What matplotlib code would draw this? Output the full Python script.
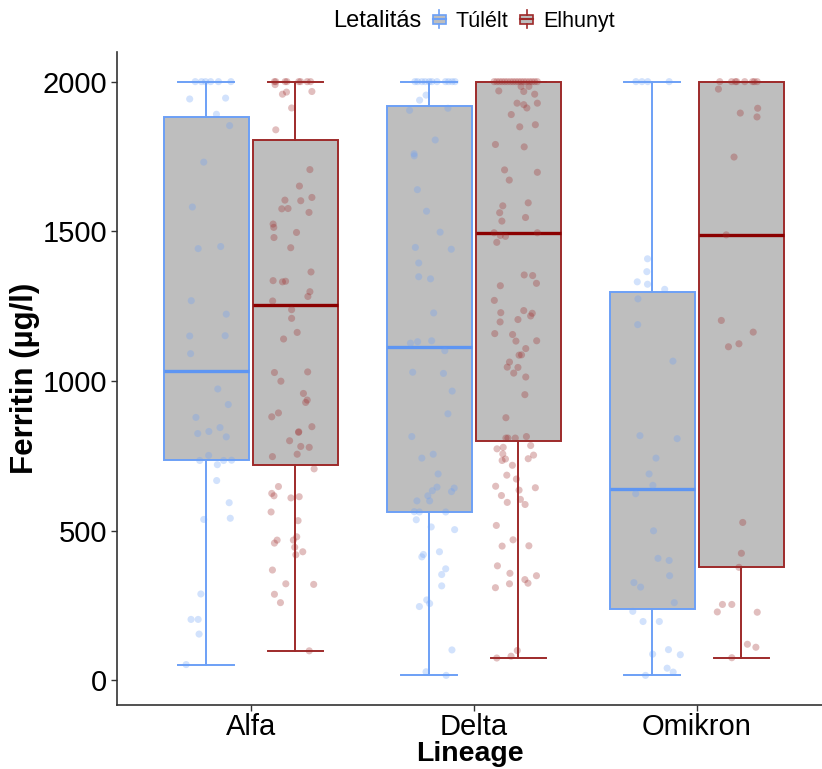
import matplotlib
matplotlib.use("Agg")
import matplotlib.pyplot as plt
from matplotlib.patches import Rectangle, Patch
from matplotlib.lines import Line2D
from matplotlib.legend_handler import HandlerBase

plt.rcParams["font.family"] = ["Liberation Sans", "DejaVu Sans"]

# -----------------------------
# Data
# -----------------------------
lineages = ["Alfa", "Delta", "Omikron"]
groups = ["Túlélt", "Elhunyt"]
colors = {"Túlélt": "#6CA0F6", "Elhunyt": "#9E2A2A"}
median_colors = {"Túlélt": "#5E95F2", "Elhunyt": "#8B0000"}

# box statistics per lineage, order: Túlélt, Elhunyt
whislo = {"Alfa": [52, 98], "Delta": [16, 75], "Omikron": [16, 75]}
q1 = {"Alfa": [734, 718], "Delta": [562, 798], "Omikron": [238, 377]}
med = {"Alfa": [1033, 1252], "Delta": [1114, 1495], "Omikron": [638, 1488]}
q3 = {"Alfa": [1882, 1806], "Delta": [1917, 2000], "Omikron": [1298, 2000]}
whishi = {"Alfa": [2000, 2000], "Delta": [2000, 2000], "Omikron": [2000, 2000]}

# jittered observations: ferritin values and horizontal jitter
alfa_tulelt_y = [2000, 2000, 2000, 2000, 2000, 2000, 1942, 1945, 1891, 1853, 1731,
                 1581, 1442, 1449, 1268, 1223, 1150, 1151, 1091, 973, 921, 878, 824,
                 831, 844, 813, 751, 734, 720, 734, 735, 667, 593, 537, 541, 288,
                 203, 203, 154, 52]
alfa_tulelt_dx = [-0.049, -0.021, -0.003, 0.020, 0.055, 0.111, -0.074, 0.087, 0.046,
                  0.105, -0.011, -0.062, -0.036, 0.065, -0.067, 0.090, -0.074, 0.085,
                  -0.070, 0.052, 0.099, -0.046, -0.038, 0.012, 0.062, 0.090, 0.011,
                  -0.029, 0.050, 0.078, 0.114, 0.047, 0.103, -0.011, 0.108, -0.024,
                  -0.068, -0.036, -0.032, -0.090]

alfa_elhunyt_y = [2000, 2000, 2000, 2000, 2000, 2000, 2000, 2000, 1990, 1958, 1965,
                  1967, 1912, 1839, 1706, 1651, 1604, 1602, 1613, 1575, 1576, 1563,
                  1524, 1513, 1479, 1496, 1445, 1364, 1335, 1331, 1333, 1298, 1282,
                  1267, 1238, 1209, 1162, 1140, 1028, 1030, 999, 958, 936, 928, 880,
                  893, 847, 828, 830, 800, 781, 778, 747, 755, 706, 647, 624, 616,
                  609, 613, 562, 533, 468, 458, 479, 468, 444, 429, 419, 368, 322,
                  320, 287, 259, 98]
alfa_elhunyt_dx = [-0.094, -0.088, -0.046, -0.038, 0.015, 0.023, 0.053, 0.068, -0.091,
                   -0.058, -0.040, 0.074, -0.017, -0.088, 0.065, 0.018, -0.047, 0.024,
                   0.074, -0.061, -0.033, 0.061, -0.100, -0.097, -0.096, 0.005, -0.021,
                   0.070, -0.100, -0.058, -0.044, 0.065, 0.056, -0.102, -0.017, -0.017,
                   0.008, -0.053, -0.094, 0.055, -0.065, 0.036, 0.053, 0.046, -0.106,
                   -0.076, 0.074, 0.014, 0.015, -0.026, 0.024, 0.062, -0.103, 0.008,
                   0.084, -0.076, -0.106, -0.096, -0.020, 0.017, -0.109, 0.012, -0.082,
                   -0.094, 0.006, -0.009, -0.003, 0.033, 0.002, -0.103, -0.043, 0.082,
                   -0.094, -0.067, 0.062]

delta_tulelt_y = [2000, 2000, 2000, 2000, 2000, 2000, 2000, 2000, 2000, 2000, 2000,
                  1955, 1938, 1904, 1911, 1805, 1759, 1752, 1639, 1567, 1497, 1446,
                  1440, 1394, 1348, 1341, 1227, 1126, 1131, 1134, 1101, 1029, 1025,
                  966, 890, 814, 742, 755, 689, 645, 633, 616, 599, 599, 630, 642,
                  563, 562, 562, 536, 512, 503, 420, 412, 429, 372, 353, 315, 268,
                  256, 246, 101, 28, 16]
delta_tulelt_dx = [-0.064, -0.052, -0.033, -0.018, 0.000, 0.012, 0.035, 0.073, 0.087,
                   0.103, 0.116, -0.014, -0.043, -0.088, 0.084, 0.027, -0.068, -0.067,
                   -0.053, -0.012, 0.049, -0.062, 0.099, -0.047, -0.047, 0.006, 0.020,
                   -0.084, -0.052, 0.011, 0.070, -0.074, 0.064, 0.103, 0.084, -0.078,
                   -0.033, 0.018, 0.040, 0.035, 0.014, -0.006, 0.002, -0.055, 0.100,
                   0.112, -0.067, -0.044, 0.074, -0.058, 0.009, 0.114, -0.026, -0.033,
                   0.046, 0.074, 0.056, 0.056, -0.011, 0.002, -0.044, 0.102, -0.014,
                   0.076]

delta_elhunyt_y = [2000, 2000, 2000, 2000, 2000, 2000, 2000, 2000, 2000, 2000, 2000,
                   2000, 2000, 2000, 2000, 2000, 2000, 1984, 1984, 1967, 1969, 1958,
                   1928, 1923, 1912, 1928, 1890, 1849, 1856, 1790, 1782, 1705, 1697,
                   1671, 1585, 1595, 1562, 1546, 1534, 1495, 1486, 1483, 1495, 1463,
                   1354, 1352, 1326, 1318, 1269, 1228, 1235, 1226, 1217, 1205, 1197,
                   1158, 1155, 1133, 1134, 1108, 1086, 1087, 1063, 1046, 1045, 1026,
                   1013, 954, 877, 809, 809, 809, 814, 773, 778, 784, 756, 734, 739,
                   740, 752, 718, 685, 672, 648, 617, 635, 643, 604, 594, 587, 517,
                   469, 448, 449, 382, 357, 336, 324, 349, 309, 322, 99, 80, 74]
delta_elhunyt_dx = [-0.109, -0.097, -0.085, -0.073, -0.061, -0.049, -0.036, -0.024,
                    -0.012, 0.000, 0.012, 0.024, 0.036, 0.049, 0.061, 0.073, 0.085,
                    0.012, 0.047, 0.024, -0.088, 0.073, -0.006, 0.024, 0.038, 0.085,
                    -0.032, 0.006, 0.076, -0.103, 0.026, -0.062, 0.085, -0.041, -0.070,
                    0.044, -0.084, 0.032, -0.074, -0.109, -0.081, -0.058, 0.085, -0.097,
                    0.026, 0.064, 0.081, -0.081, -0.108, -0.079, 0.024, 0.062, 0.055,
                    -0.002, -0.082, -0.106, -0.026, -0.011, 0.082, 0.033, 0.003, 0.014,
                    -0.040, -0.050, -0.002, -0.021, 0.033, 0.029, -0.056, -0.056,
                    -0.047, -0.014, 0.036, -0.096, -0.068, 0.055, -0.070, -0.073,
                    -0.058, 0.044, 0.068, -0.027, -0.052, -0.009, -0.102, -0.076, 0.003,
                    0.076, 0.009, -0.050, 0.030, -0.099, -0.024, -0.073, 0.047, -0.094,
                    -0.038, 0.029, 0.043, 0.081, -0.103, -0.040, -0.005, -0.033, -0.097]

omikron_tulelt_y = [2000, 2000, 2000, 2000, 1408, 1365, 1331, 1323, 1306, 1274, 1188,
                    1066, 817, 807, 742, 689, 651, 623, 499, 407, 400, 349, 326, 311,
                    259, 230, 196, 196, 87, 102, 85, 40, 27, 16]
omikron_tulelt_dx = [-0.073, -0.046, -0.020, 0.076, -0.021, -0.024, -0.067, -0.021,
                     0.056, -0.064, -0.065, 0.093, -0.055, 0.112, 0.017, -0.014, 0.003,
                     -0.074, 0.006, 0.026, 0.076, 0.078, -0.082, -0.052, 0.099, -0.087,
                     -0.041, 0.032, 0.002, 0.073, 0.126, 0.067, 0.094, -0.030]

omikron_elhunyt_y = [2000, 2000, 2000, 2000, 2000, 2000, 2000, 2000, 1975, 1911, 1895,
                     1882, 1748, 1488, 1202, 1163, 1114, 1124, 527, 424, 377, 253, 253,
                     228, 227, 120, 110, 75]
omikron_elhunyt_dx = [-0.097, -0.044, -0.027, -0.021, 0.015, 0.050, 0.058, 0.071,
                      -0.103, 0.073, -0.005, 0.070, -0.033, -0.068, -0.090, 0.053,
                      -0.058, -0.011, 0.006, 0.000, -0.011, -0.085, -0.043, -0.108,
                      0.071, 0.027, 0.065, -0.043]

points = {
    ("Alfa", "Túlélt"): (alfa_tulelt_dx, alfa_tulelt_y),
    ("Alfa", "Elhunyt"): (alfa_elhunyt_dx, alfa_elhunyt_y),
    ("Delta", "Túlélt"): (delta_tulelt_dx, delta_tulelt_y),
    ("Delta", "Elhunyt"): (delta_elhunyt_dx, delta_elhunyt_y),
    ("Omikron", "Túlélt"): (omikron_tulelt_dx, omikron_tulelt_y),
    ("Omikron", "Elhunyt"): (omikron_elhunyt_dx, omikron_elhunyt_y),
}

# -----------------------------
# Legend key looking like a small boxplot
# -----------------------------
class BoxKeyHandler(HandlerBase):
    def create_artists(self, legend, orig_handle, xdescent, ydescent,
                       width, height, fontsize, trans):
        c = orig_handle.get_edgecolor()
        x0, y0 = -xdescent, -ydescent
        xm = x0 + width / 2
        rect = Rectangle((x0, y0 + height * 0.25), width, height * 0.5,
                         facecolor="#BEBEBE", edgecolor=c, lw=1.2, transform=trans)
        mid = Line2D([x0, x0 + width], [y0 + height / 2] * 2, color=c, lw=1.5,
                     transform=trans)
        top = Line2D([xm, xm], [y0 + height * 0.75, y0 + height], color=c, lw=1.2,
                     transform=trans)
        bot = Line2D([xm, xm], [y0, y0 + height * 0.25], color=c, lw=1.2,
                     transform=trans)
        return [rect, mid, top, bot]

# -----------------------------
# Figure
# -----------------------------
fig = plt.figure(figsize=(8.22, 7.69), dpi=100)
ax = fig.add_axes([117 / 822, 64 / 769, 705 / 822, 653 / 769])

offsets = {"Túlélt": -0.2, "Elhunyt": 0.2}
for i, lin in enumerate(lineages, start=1):
    for j, grp in enumerate(groups):
        pos = i + offsets[grp]
        c = colors[grp]
        stats = [{
            "whislo": whislo[lin][j], "q1": q1[lin][j], "med": med[lin][j],
            "q3": q3[lin][j], "whishi": whishi[lin][j], "fliers": [],
        }]
        ax.bxp(stats, positions=[pos], widths=0.38, capwidths=0.25,
               patch_artist=True, showfliers=False, manage_ticks=False,
               boxprops=dict(facecolor="#BEBEBE", edgecolor=c, lw=1.4),
               whiskerprops=dict(color=c, lw=1.4),
               capprops=dict(color=c, lw=1.4),
               medianprops=dict(color=median_colors[grp], lw=2.4),
               zorder=2)
        dx, y = points[(lin, grp)]
        ax.scatter([pos + d for d in dx], y, s=26, color=c, alpha=0.3,
                   edgecolors="none", zorder=3)

ax.set_xlim(0.4, 0.4 + 705 / 223)
ax.set_ylim(-83, 2099)
ax.set_xticks(range(1, len(lineages) + 1))
ax.set_xticklabels(lineages)
ax.set_yticks([0, 500, 1000, 1500, 2000])
ax.tick_params(axis="both", labelsize=21, color="#333333", length=4, width=1)
ax.tick_params(axis="y", pad=3)
ax.tick_params(axis="x", pad=2)
for side in ["top", "right"]:
    ax.spines[side].set_visible(False)
for side in ["left", "bottom"]:
    ax.spines[side].set_color("#333333")
    ax.spines[side].set_linewidth(1.2)

ax.set_xlabel("Lineage", fontsize=20.5, fontweight="bold", labelpad=0)
ax.set_ylabel("Ferritin (µg/l)", fontsize=22.5, fontweight="bold", labelpad=2)

# legend on top
fig.text(333 / 822, 1 - 21 / 769, "Letalitás", fontsize=17, ha="left", va="center")
handles = [Patch(facecolor="#BEBEBE", edgecolor=colors[g]) for g in groups]
fig.legend(handles, groups, loc="center left", bbox_to_anchor=(433 / 822, 1 - 21 / 769),
           ncol=2, frameon=False, fontsize=15.5, handler_map={Patch: BoxKeyHandler()},
           handlelength=0.6, handleheight=0.9, handletextpad=0.45, columnspacing=0.55,
           borderpad=0, borderaxespad=0)

fig.savefig("out.png", dpi=100)
